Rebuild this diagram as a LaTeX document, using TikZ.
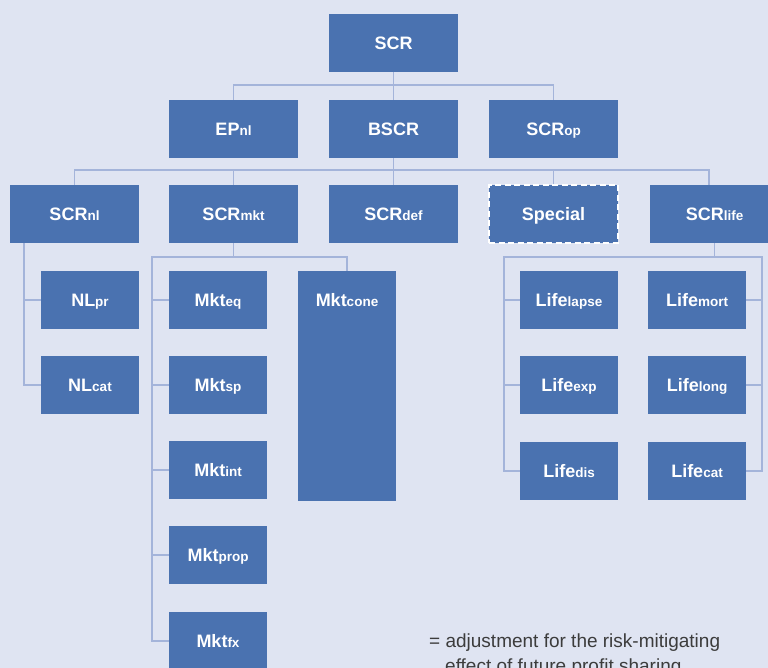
\documentclass[tikz,border=0pt]{standalone}
\usepackage{fontspec}
\setmainfont{Liberation Sans}
\definecolor{pagebg}{RGB}{223,228,242}
\definecolor{boxblue}{RGB}{74,114,176}
\definecolor{linkblue}{RGB}{164,180,218}
\definecolor{notegray}{RGB}{60,60,60}
\newcommand\subtxt[1]{{\fontsize{13.5}{15}\selectfont #1}}
\tikzset{
  box/.style={fill=boxblue, text=white, inner sep=0pt,
    font=\fontsize{18}{20}\selectfont\bfseries,
    text height=12.9pt, text depth=0pt},
  bigbox/.style={box, minimum width=129pt, minimum height=58pt},
  smallbox/.style={box, minimum width=98pt, minimum height=58pt},
  specialbox/.style={bigbox, draw=white, dashed, dash pattern=on 6pt off 3.5pt, line width=1.5pt},
  link/.style={draw=linkblue, line width=1.5pt},
  note/.style={text=notegray, inner sep=0pt, anchor=base west,
    font=\fontsize{19}{22}\selectfont}
}
\begin{document}
\begin{tikzpicture}[x=1pt, y=-1pt]
\fill[pagebg] (0,0) rectangle (768,668);
\clip (0,0) rectangle (768,668);

% top level
\node[bigbox] (scr) at (393.5,43) {SCR};

% second level
\node[bigbox] (ep)   at (233.5,129) {EP\subtxt{nl}};
\node[bigbox] (bscr) at (393.5,129) {BSCR};
\node[bigbox] (op)   at (553.5,129) {SCR\subtxt{op}};

% third level
\node[bigbox] (nl)      at (74.5,214)  {SCR\subtxt{nl}};
\node[bigbox] (mkt)     at (233.5,214) {SCR\subtxt{mkt}};
\node[bigbox] (def)     at (393.5,214) {SCR\subtxt{def}};
\node[specialbox] (special) at (553.5,214) {Special};
\node[bigbox] (life)    at (714.5,214) {SCR\subtxt{life}};

% non-life modules
\node[smallbox] (nlpr)  at (90,300) {NL\subtxt{pr}};
\node[smallbox] (nlcat) at (90,385) {NL\subtxt{cat}};

% market modules
\node[smallbox] (mkteq)   at (218,300) {Mkt\subtxt{eq}};
\node[smallbox] (mktsp)   at (218,385) {Mkt\subtxt{sp}};
\node[smallbox] (mktint)  at (218,470) {Mkt\subtxt{int}};
\node[smallbox] (mktprop) at (218,555) {Mkt\subtxt{prop}};
\node[smallbox] (mktfx)   at (218,641) {Mkt\subtxt{fx}};
\node[smallbox, minimum height=230pt] (cone) at (347,386) {};
\node[box, fill=none] (conetext) at (347,300) {Mkt\subtxt{cone}};

% life modules
\node[smallbox] (lapse) at (569,300) {Life\subtxt{lapse}};
\node[smallbox] (exp)   at (569,385) {Life\subtxt{exp}};
\node[smallbox] (dis)   at (569,471) {Life\subtxt{dis}};
\node[smallbox] (mort)  at (697,300) {Life\subtxt{mort}};
\node[smallbox] (long)  at (697,385) {Life\subtxt{long}};
\node[smallbox] (lcat)  at (697,471) {Life\subtxt{cat}};

% SCR -> second level
\draw[link] (scr.south) -- ++(0,13) coordinate (bus1);
\draw[link] (ep.north) |- (bus1) -| (op.north);
\draw[link] (bus1) -- (bscr.north);

% BSCR -> third level
\draw[link] (bscr.south) -- ++(0,12) coordinate (bus2);
\draw[link] (nl.north) |- (bus2) -| ([xshift=-5.5pt]life.north);
\draw[link] (mkt.north) |- (bus2);
\draw[link] (bus2) -- (def.north);
\draw[link] (special.north) |- (bus2);

% non-life branch
\draw[link] ([xshift=-50.5pt]nl.south) |- (nlcat.west);
\draw[link] (nlpr.west) -- ++(-17,0);

% market branch
\draw[link] (mkt.south) -- ++(0,14) coordinate (bus3);
\draw[link] (mktfx.west) -- ++(-17,0) |- (bus3) -| (cone.north);
\foreach \m in {mkteq,mktsp,mktint,mktprop}
  \draw[link] (\m.west) -- ++(-17,0);

% life branch
\draw[link] (life.south) -- ++(0,14) coordinate (bus4);
\draw[link] (dis.west) -- ++(-16,0) |- (bus4);
\draw[link] (lcat.east) -- ++(16,0) |- (bus4);
\foreach \m in {lapse,exp} \draw[link] (\m.west) -- ++(-16,0);
\foreach \m in {mort,long} \draw[link] (\m.east) -- ++(16,0);

% legend text
\node[note] (note1) at (429,647) {= adjustment for the risk-mitigating};
\node[note] (note2) at (445,672) {effect of future profit sharing};
\end{tikzpicture}
\end{document}
